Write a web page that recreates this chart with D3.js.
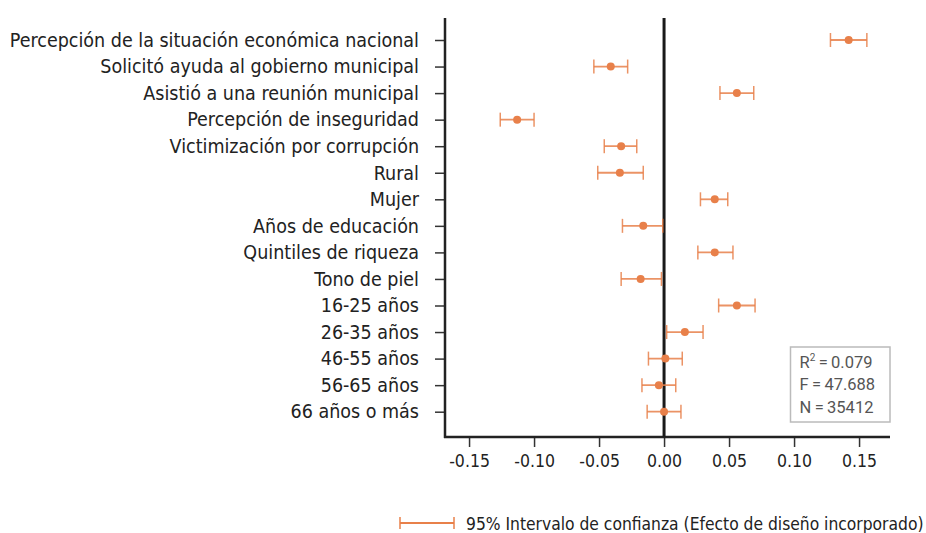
<!DOCTYPE html>
<html><head><meta charset="utf-8">
<script src="https://cdn.jsdelivr.net/npm/d3@7"></script>
<style>
body{margin:0;background:#fff;}
svg{display:block;}
</style></head>
<body><svg id="chart" width="926" height="533"></svg>
<script>
const categories = ["Percepción de la situación económica nacional","Solicitó ayuda al gobierno municipal","Asistió a una reunión municipal","Percepción de inseguridad","Victimización por corrupción","Rural","Mujer","Años de educación","Quintiles de riqueza","Tono de piel","16-25 años","26-35 años","46-55 años","56-65 años","66 años o más"];
const estimates = [0.142,-0.041,0.056,-0.113,-0.033,-0.034,0.039,-0.016,0.039,-0.018,0.056,0.016,0.001,-0.004,0.000];
const ciLow  = [0.128,-0.054,0.043,-0.126,-0.046,-0.051,0.028,-0.032,0.026,-0.033,0.042,0.002,-0.012,-0.017,-0.013];
const ciHigh = [0.156,-0.028,0.069,-0.100,-0.021,-0.016,0.049,-0.001,0.053,-0.002,0.070,0.030,0.014,0.009,0.013];
const xTicks = [-0.15,-0.10,-0.05,0.00,0.05,0.10,0.15];
const stats = [["R","2","\u2009=\u20090.079"],["F","","\u2009=\u200947.688"],["N","","\u2009=\u200935412"]];
const legendLabel = "95% Intervalo de confianza (Efecto de diseño incorporado)";

(function(){
const svg = d3.select("#chart");
const font = "'DejaVu Sans Condensed','Liberation Sans Narrow',sans-serif";
const orange = "#E8804A";
const L = 445, R = 890, T = 18, B = 437;

const x = d3.scaleLinear().domain([-0.1685, 0.1738]).range([L, R]);
const y = d3.scalePoint().domain(categories).range([40, 411.7]);

// y axis
const yAxis = d3.axisLeft(y).tickSize(10).tickPadding(16).tickSizeOuter(0);
const gy = svg.append("g").attr("transform", `translate(${L},0)`).call(yAxis);
gy.select(".domain").remove();
gy.selectAll(".tick line").attr("stroke","#333").attr("stroke-width",1.5);
gy.selectAll(".tick text").attr("font-family",font).attr("font-size",19.5).attr("fill","#222");
svg.append("line").attr("x1",L).attr("x2",L).attr("y1",T).attr("y2",B+1)
  .attr("stroke","#222").attr("stroke-width",2.5);

// x axis
const xAxis = d3.axisBottom(x).tickValues(xTicks).tickSize(10).tickPadding(8).tickSizeOuter(0);
const gx = svg.append("g").attr("transform", `translate(0,${B})`).call(xAxis);
gx.select(".domain").remove();
gx.selectAll(".tick line").attr("stroke","#333").attr("stroke-width",1.5);
gx.selectAll(".tick text").attr("font-family",font).attr("font-size",17.5).attr("fill","#222")
  .text(d => d.toFixed(2));
svg.append("line").attr("x1",L-1).attr("x2",R).attr("y1",B).attr("y2",B)
  .attr("stroke","#222").attr("stroke-width",2.5);

// zero line
svg.append("line").attr("x1",x(0)).attr("x2",x(0)).attr("y1",T).attr("y2",B)
  .attr("stroke","#1a1a1a").attr("stroke-width",3);

// error bars
const rows = categories.map((c,i)=>({c, est:estimates[i], lo:ciLow[i], hi:ciHigh[i]}));
const eb = svg.append("g").selectAll("g.eb").data(rows).join("g").attr("class","eb");
eb.append("line").attr("x1",d=>x(d.lo)).attr("x2",d=>x(d.hi)).attr("y1",d=>y(d.c)).attr("y2",d=>y(d.c))
  .attr("stroke",orange).attr("stroke-width",1.8).attr("stroke-opacity",0.85);
eb.append("line").attr("x1",d=>x(d.lo)).attr("x2",d=>x(d.lo)).attr("y1",d=>y(d.c)-7).attr("y2",d=>y(d.c)+7)
  .attr("stroke",orange).attr("stroke-width",1.5).attr("stroke-opacity",0.85);
eb.append("line").attr("x1",d=>x(d.hi)).attr("x2",d=>x(d.hi)).attr("y1",d=>y(d.c)-7).attr("y2",d=>y(d.c)+7)
  .attr("stroke",orange).attr("stroke-width",1.5).attr("stroke-opacity",0.85);
eb.append("circle").attr("cx",d=>x(d.est)).attr("cy",d=>y(d.c)).attr("r",4).attr("fill",orange);

// stats box
const bx = 790.5, by = 347, bw = 99.5, bh = 75;
svg.append("rect").attr("x",bx).attr("y",by).attr("width",bw).attr("height",bh)
  .attr("fill","#fff").attr("stroke","#bbb").attr("stroke-width",1.5);
stats.forEach((s,i)=>{
  const t = svg.append("text").attr("x",bx+9).attr("y",by+21+i*22.3)
    .attr("font-family","Roboto, 'Open Sans', sans-serif").attr("font-size",16.5).attr("fill","#555");
  t.append("tspan").text(s[0]);
  if (s[1]) t.append("tspan").attr("dy",-7).attr("font-size",10).text(s[1]);
  t.append("tspan").attr("dy", s[1] ? 7 : 0).text(s[2]);
});

// legend
svg.append("line").attr("x1",400).attr("x2",454).attr("y1",523).attr("y2",523).attr("stroke",orange).attr("stroke-width",1.8);
svg.append("line").attr("x1",400).attr("x2",400).attr("y1",517).attr("y2",529).attr("stroke",orange).attr("stroke-width",1.5);
svg.append("line").attr("x1",454).attr("x2",454).attr("y1",517).attr("y2",529).attr("stroke",orange).attr("stroke-width",1.5);
svg.append("text").attr("x",466).attr("y",530).attr("font-family",font).attr("font-size",17.3).attr("fill","#222").text(legendLabel);
})();
</script></body></html>
